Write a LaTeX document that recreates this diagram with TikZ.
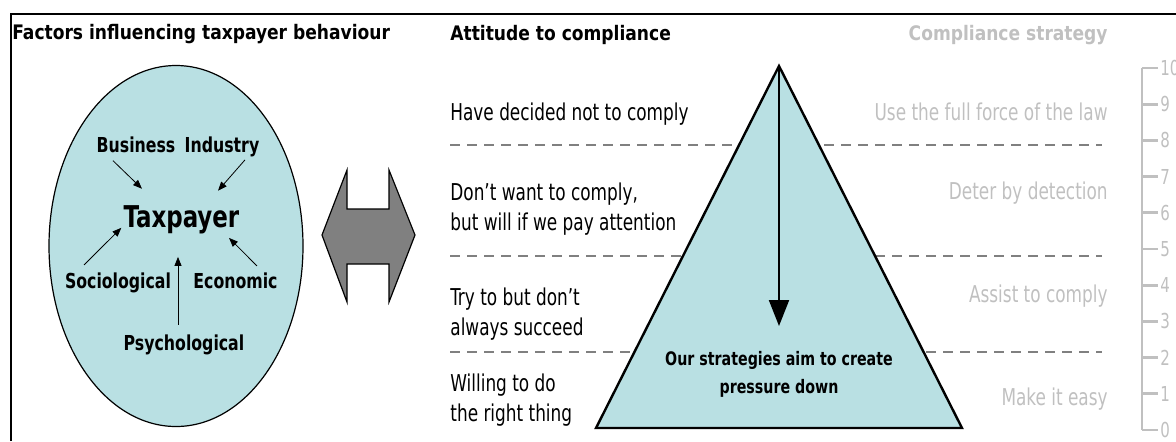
\documentclass[tikz,border=0pt]{standalone}
\usepackage{fontspec}
\setmainfont{DejaVu Sans Condensed}
\newfontfamily\condfont{DejaVu Sans Condensed}[FakeStretch=0.81]
\newfontfamily\factfont{DejaVu Sans Condensed}[FakeStretch=0.85]
\newfontfamily\headfont{DejaVu Sans Condensed}[FakeStretch=0.95]
\usepackage{tikz}
\usetikzlibrary{arrows.meta}

\definecolor{paleblue}{RGB}{185,224,227}
\definecolor{midgray}{RGB}{128,128,128}
\definecolor{lightgray}{RGB}{192,192,192}

\tikzset{
  heading/.style={font=\headfont\bfseries\fontsize{10}{12}\selectfont, inner sep=0pt, anchor=base west},
  factor/.style={font=\factfont\bfseries\fontsize{10.3}{12}\selectfont, inner sep=0pt, anchor=base},
  attitude/.style={font=\condfont\fontsize{11.6}{15}\selectfont, inner sep=0pt, anchor=base west, align=left},
  strategy/.style={attitude, anchor=base east, align=right, text=lightgray},
  influence/.style={-{Triangle[length=4.5pt,width=3.5pt]}, line width=0.4pt},
  band/.style={midgray, line width=1.4pt, dash pattern=on 5pt off 3.5pt},
  ruler/.style={lightgray, line width=1.4pt},
  rulernum/.style={font=\condfont\fontsize{10.3}{12}\selectfont, text=lightgray, inner sep=0pt, anchor=west}
}

\begin{document}
\begin{tikzpicture}[x=0.5pt,y=-0.5pt]
\useasboundingbox (0,0) rectangle (1176,441);
\draw[line width=1pt] (11,441) -- (11,14) -- (1176,14);

\node[heading] (titlefac) at (12,39) {Factors influencing taxpayer behaviour};
\node[heading] (titleatt) at (450,40) {Attitude to compliance};
\node[heading, anchor=base east, text=lightgray] (titlestr) at (1108,40) {Compliance strategy};

\draw[fill=paleblue, line width=0.6pt] (176,246) ellipse (127 and 180.5);
\node[factor] (bus) at (136,152) {Business};
\node[factor] (ind) at (222,152) {Industry};
\node[factor, font=\factfont\bfseries\fontsize{15}{18}\selectfont] (tax) at (181.5,227) {Taxpayer};
\node[factor] (soc) at (118,288) {Sociological};
\node[factor] (eco) at (235.5,288) {Economic};
\node[factor] (psy) at (184,350) {Psychological};
\draw[influence] ([shift={(-23,8)}]bus.south) -- ([shift={(-39.5,-16)}]tax.north);
\draw[influence] ([shift={(23,3)}]ind.south) -- ([shift={(36.5,-14)}]tax.north);
\draw[influence] ([shift={(-34,-7)}]soc.north) -- ([shift={(-2,8.5)}]tax.west);
\draw[influence] ([shift={(21.5,-6)}]eco.north) -- ([shift={(47.5,4)}]tax.south);
\draw[influence] ([shift={(-6,-9)}]psy.north) -- ([shift={(-3.5,23)}]tax.south);

\draw[fill=midgray, line width=0.6pt] (322,235) -- (347,170) -- (347,209) -- (389,209) -- (389,170)
  -- (415,235) -- (389,302) -- (389,264) -- (347,264) -- (347,302) -- cycle;

\draw[band] (450,145) -- (1102,145);
\draw[band] (450,256) -- (1102,256);
\draw[band] (450,352) -- (1102,352);

\node[attitude] (att1) at (450,120) {Have decided not to comply};
\node[attitude] (att2) at (450,230) {Don’t want to comply,\\but will if we pay attention};
\node[attitude] (att3) at (450,335) {Try to but don’t\\always succeed};
\node[attitude] (att4) at (450,421) {Willing to do\\the right thing};

\coordinate (apex) at (779,66);
\coordinate (tip) at (779,326);
\draw[fill=paleblue, line width=1.2pt, line join=miter] (apex) -- (962,428) -- (596,428) -- cycle;
\draw[-{Triangle[length=13pt,width=10pt]}, line width=1pt] (apex) -- (tip);
\node[factor, font=\factfont\bfseries\fontsize{9.3}{14}\selectfont, align=center] (aim) at (779,393)
  {Our strategies aim to create\\pressure down};

\node[strategy] (str1) at (1108,120) {Use the full force of the law};
\node[strategy] (str2) at (1108,199) {Deter by detection};
\node[strategy] (str3) at (1108,302) {Assist to comply};
\node[strategy] (str4) at (1108,405) {Make it easy};

\draw[ruler] (1142,68) -- (1142,430);
\foreach \i in {0,...,10} {
  \draw[ruler] (1142,{430-36.2*\i}) -- (1158,{430-36.2*\i});
  \node[rulernum] (num\i) at (1160,{430-36.2*\i}) {\i};
}
\end{tikzpicture}
\end{document}
